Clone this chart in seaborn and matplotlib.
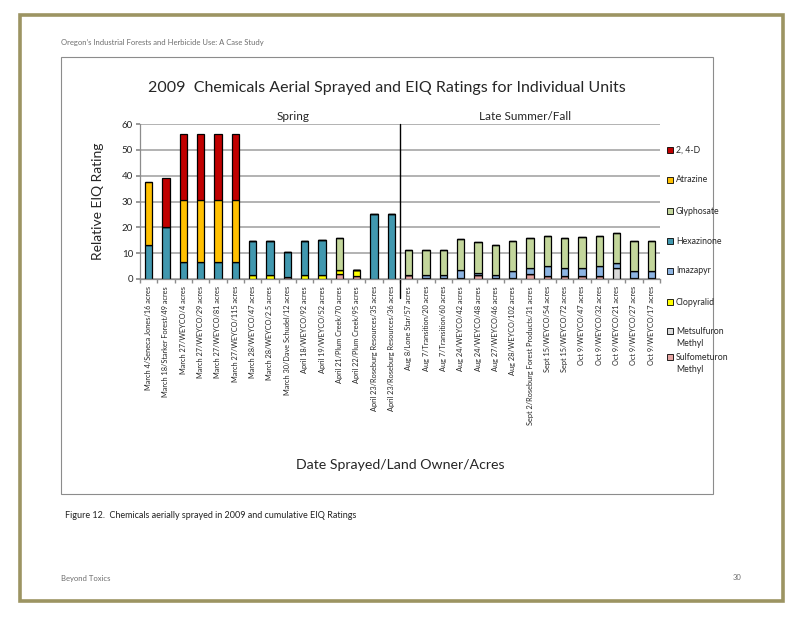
import numpy as np
import pandas as pd
import matplotlib
matplotlib.use("Agg")
import matplotlib.pyplot as plt
import seaborn as sns
from matplotlib.patches import Rectangle

units = [
    "March 4/Seneca Jones/16 acres", "March 18/Starker Forest/49 acres",
    "March 27/WEYCO/4 acres", "March 27/WEYCO/29 acres", "March 27/WEYCO/81 acres",
    "March 27/WEYCO/115 acres", "March 28/WEYCO/47 acres", "March 28/WEYCO/2.5 acres",
    "March 30/Dave Schudel/12 acres", "April 18/WEYCO/92 acres", "April 19/WEYCO/52 acres",
    "April 21/Plum Creek/70 acres", "April 22/Plum Creek/95 acres",
    "April 23/Roseburg Resources/35 acres", "April 23/Roseburg Resources/36 acres",
    "Aug 8/Lone Star/57 acres", "Aug 7/Transition/20 acres", "Aug 7/Transition/60 acres",
    "Aug 24/WEYCO/42 acres", "Aug 24/WEYCO/48 acres", "Aug 27/WEYCO/46 acres",
    "Aug 28/WEYCO/102 acres", "Sept 2/Roseburg Forest Products/31 acres",
    "Sept 15/WEYCO/54 acres", "Sept 15/WEYCO/72 acres", "Oct 9/WEYCO/47 acres",
    "Oct 9/WEYCO/32 acres", "Oct 9/WEYCO/21 acres", "Oct 9/WEYCO/27 acres",
    "Oct 9/WEYCO/17 acres",
]

chemicals = ["2, 4-D", "Atrazine", "Glyphosate", "Hexazinone", "Imazapyr",
             "Clopyralid", "Metsulfuron Methyl", "Sulfometuron Methyl"]
legend_labels = ["2, 4-D", "Atrazine", "Glyphosate", "Hexazinone", "Imazapyr",
                 "Clopyralid", "Metsulfuron\nMethyl", "Sulfometuron\nMethyl"]
colors = ["#C00000", "#FFC000", "#C3D69B", "#4198AF", "#8DB4E2",
          "#FFFF00", "#D9D9D9", "#E6A5A3"]

d24 = [0, 19.1, 25.5, 25.5, 25.5, 25.5, 0, 0, 0, 0, 0, 0, 0, 0, 0,
       0, 0, 0, 0, 0, 0, 0, 0, 0, 0, 0, 0, 0, 0, 0]
atrazine = [24.3, 0, 24.1, 24.1, 24.1, 24.1, 0, 0, 0, 0, 0, 0, 0, 0, 0,
            0, 0, 0, 0, 0, 0, 0, 0, 0, 0, 0, 0, 0, 0, 0]
glyphosate = [0, 0, 0, 0, 0, 0, 0, 0, 0, 0, 0, 12.5, 0, 0, 0,
              9.6, 9.5, 9.5, 11.9, 12.0, 11.7, 11.8, 11.7, 11.5, 11.9, 11.9, 11.6, 11.7, 11.7, 11.7]
hexazinone = [13.3, 20.1, 6.5, 6.5, 6.5, 6.5, 13.2, 13.2, 9.9, 13.3, 13.5, 0, 0, 25.3, 25.3,
              0, 0, 0, 0, 0, 0, 0, 0, 0, 0, 0, 0, 0, 0, 0]
imazapyr = [0, 0, 0, 0, 0, 0, 0, 0, 0, 0, 0, 0, 0, 0, 0,
            0, 1.3, 1.3, 3.3, 1.0, 1.2, 2.7, 2.3, 3.8, 2.8, 3.0, 3.8, 2.1, 2.7, 2.7]
clopyralid = [0, 0, 0, 0, 0, 0, 1.7, 1.7, 0, 1.5, 1.5, 1.4, 2.4, 0, 0,
              0, 0, 0, 0, 0, 0, 0, 0, 0, 0, 0, 0, 0, 0, 0]
metsulfuron = [0, 0, 0, 0, 0, 0, 0, 0, 0, 0, 0, 0, 0, 0, 0,
               0, 0, 0, 0, 0, 0, 0, 0, 0, 0, 0, 0, 4.1, 0, 0]
sulfometuron = [0, 0, 0, 0, 0, 0, 0, 0, 0.6, 0, 0, 1.9, 1.2, 0, 0,
                1.6, 0.4, 0.4, 0.3, 1.5, 0.3, 0.3, 2.0, 1.3, 1.3, 1.3, 1.3, 0, 0.3, 0.3]

series = [d24, atrazine, glyphosate, hexazinone, imazapyr, clopyralid, metsulfuron, sulfometuron]

rows = []
for chem, vals in zip(chemicals, series):
    for i, v in enumerate(vals):
        rows.append({"pos": i, "chemical": chem, "value": v})
df = pd.DataFrame(rows)

sns.set_theme(style="white")
plt.rcParams["font.family"] = ["Lato", "DejaVu Sans"]

W, H = 800, 618
fig = plt.figure(figsize=(8, 6.18), dpi=100)

def fx(px):
    return px / W

def fy(py):
    return 1 - py / H

# page border
fig.patches.append(Rectangle((fx(20), fy(601)), fx(763), (601 - 15) / H,
                             transform=fig.transFigure, fill=False,
                             edgecolor="#9C9462", linewidth=2.6))
# chart frame
fig.patches.append(Rectangle((fx(61), fy(494)), fx(652), (494 - 57) / H,
                             transform=fig.transFigure, fill=False,
                             edgecolor="#8C8C8C", linewidth=0.8))

ax = fig.add_axes([fx(140), fy(279), fx(520), (279 - 124) / H])

sns.histplot(data=df, x="pos", weights="value", hue="chemical", hue_order=chemicals,
             palette=colors, multiple="stack", discrete=True, shrink=0.42,
             edgecolor="black", linewidth=0.9, alpha=1, legend=False, ax=ax)

ax.set_xlim(-0.5, len(units) - 0.5)
ax.set_ylim(0, 60)
ax.set_yticks(np.arange(0, 61, 10))
ax.yaxis.grid(True, color="#A6A6A6", linewidth=1.2)
ax.set_axisbelow(True)
for s in ["top", "right"]:
    ax.spines[s].set_visible(False)
for s in ["left", "bottom"]:
    ax.spines[s].set_color("#8C8C8C")
    ax.spines[s].set_linewidth(0.9)
ax.tick_params(axis="y", which="major", length=3, color="#8C8C8C", labelsize=7, pad=2, left=True)
ax.set_xticks(range(len(units)))
ax.set_xticklabels(units, rotation=90, fontsize=5.3)
ax.tick_params(axis="x", which="major", length=0, pad=5)
ax.set_xticks(np.arange(-0.5, len(units), 1), minor=True)
ax.tick_params(axis="x", which="minor", length=3, color="#8C8C8C", bottom=True)
ax.set_xlabel("")
ax.set_ylabel("")

# separator between seasons
ax.plot([14.5, 14.5], [-7.5, 60], color="black", linewidth=1, clip_on=False)

fig.text(fx(387), fy(88), "2009  Chemicals Aerial Sprayed and EIQ Ratings for Individual Units",
         ha="center", va="center", fontsize=11.5)
fig.text(fx(293), fy(116), "Spring", ha="center", va="center", fontsize=8.5)
fig.text(fx(525), fy(116), "Late Summer/Fall", ha="center", va="center", fontsize=8.5)
fig.text(fx(98), fy(201), "Relative EIQ Rating", ha="center", va="center", rotation=90, fontsize=10)
fig.text(fx(400), fy(465), "Date Sprayed/Land Owner/Acres", ha="center", va="center", fontsize=10.2)

# legend
leg_y = [150, 180, 211, 241, 271, 302, 331, 357]
for lab, col, yy in zip(legend_labels, colors, leg_y):
    lines = lab.split("\n")
    fig.patches.append(Rectangle((fx(667), fy(yy + 3)), fx(6), 6 / H,
                                 transform=fig.transFigure, facecolor=col,
                                 edgecolor="black", linewidth=0.6))
    fig.text(fx(676), fy(yy), lines[0], ha="left", va="center", fontsize=6.3)
    if len(lines) > 1:
        fig.text(fx(676), fy(yy + 12), lines[1], ha="left", va="center", fontsize=6.3)

# page texts
fig.text(fx(61), fy(42), "Oregon\u2019s Industrial Forests and Herbicide Use: A Case Study",
         ha="left", va="center", fontsize=5.5, color="#6E6E6E")
fig.text(fx(65), fy(516), "Figure 12.  Chemicals aerially sprayed in 2009 and cumulative EIQ Ratings",
         ha="left", va="center", fontsize=6.5, color="#222222")
fig.text(fx(61), fy(578), "Beyond Toxics", ha="left", va="center", fontsize=5.5, color="#6E6E6E")
fig.text(fx(741), fy(578), "30", ha="right", va="center", fontsize=5.5, color="#6E6E6E")

fig.savefig("out.png", dpi=100)
